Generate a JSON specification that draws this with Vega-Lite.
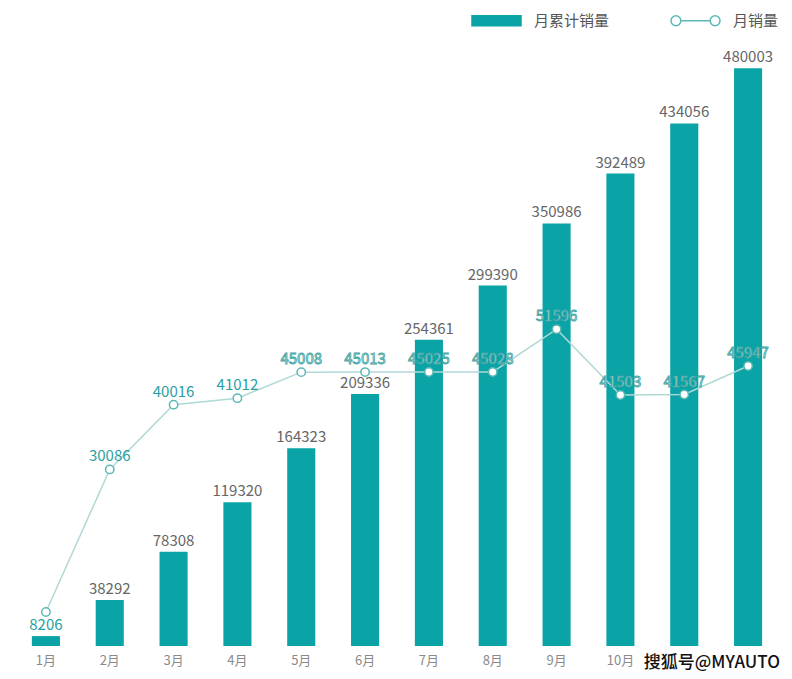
{
  "$schema": "https://vega.github.io/schema/vega-lite/v6.json",
  "width": 766,
  "height": 626,
  "autosize": {"type": "none"},
  "padding": {"left": 14, "top": 20, "right": 12, "bottom": 33},
  "background": "white",
  "title": {
    "text": "搜狐号@MYAUTO",
    "orient": "bottom",
    "anchor": "end",
    "offset": -12,
    "fontSize": 17,
    "fontWeight": 500,
    "color": "#111111",
    "font": "Noto Sans CJK SC"
  },
  "config": {
    "view": {"stroke": null},
    "font": "Noto Sans CJK SC",
    "text": {"font": "Noto Sans CJK SC"},
    "legend": {
      "orient": "none",
      "legendX": 457,
      "legendY": -25,
      "direction": "horizontal",
      "title": null,
      "labelFontSize": 15,
      "labelColor": "#555555",
      "labelFont": "Noto Sans CJK SC",
      "symbolSize": 2400,
      "symbolStrokeWidth": 1.5,
      "symbolOpacity": 1,
      "labelOffset": 12,
      "columnPadding": 58
    }
  },
  "data": {
    "values": [
      {"month": "1月", "cum": 8206, "monthly": 8206},
      {"month": "2月", "cum": 38292, "monthly": 30086},
      {"month": "3月", "cum": 78308, "monthly": 40016},
      {"month": "4月", "cum": 119320, "monthly": 41012},
      {"month": "5月", "cum": 164323, "monthly": 45008},
      {"month": "6月", "cum": 209336, "monthly": 45013},
      {"month": "7月", "cum": 254361, "monthly": 45025},
      {"month": "8月", "cum": 299390, "monthly": 45028},
      {"month": "9月", "cum": 350986, "monthly": 51596},
      {"month": "10月", "cum": 392489, "monthly": 41503},
      {"month": "11月", "cum": 434056, "monthly": 41567},
      {"month": "12月", "cum": 480003, "monthly": 45947}
    ]
  },
  "encoding": {
    "x": {
      "field": "month",
      "type": "ordinal",
      "sort": null,
      "scale": {"paddingInner": 0.56, "paddingOuter": 0.28},
      "axis": {
        "title": null,
        "domain": false,
        "ticks": false,
        "labelAngle": 0,
        "labelColor": "#8a8a8a",
        "labelFontSize": 13,
        "labelPadding": 8,
        "labelFont": "Noto Sans CJK SC",
        "labelExpr": "(datum.value === '11月' || datum.value === '12月') ? '' : datum.label"
      }
    }
  },
  "layer": [
    {
      "layer": [
        {
          "mark": {"type": "bar", "opacity": 1},
          "encoding": {
            "y": {"field": "cum", "type": "quantitative", "scale": {"domain": [0, 520000], "nice": false}, "axis": null},
            "fill": {
              "datum": "月累计销量",
              "scale": {"domain": ["月累计销量", "月销量"], "range": ["#0aa3a6", "#ffffff"]}
            }
          }
        },
        {
          "mark": {"type": "text", "baseline": "bottom", "dy": -3, "fontSize": 15},
          "encoding": {
            "y": {"field": "cum", "type": "quantitative", "scale": {"domain": [0, 520000], "nice": false}, "axis": null},
            "text": {"field": "cum", "type": "quantitative", "format": "d"},
            "color": {"condition": {"test": "datum.month === '1月'", "value": "#2a9fa3"}, "value": "#666666"},
            "fontWeight": {"condition": {"test": "datum.month === '1月'", "value": 600}, "value": 400}
          }
        }
      ]
    },
    {
      "layer": [
        {
          "mark": {"type": "line", "color": "#b0d8d6", "strokeWidth": 1.5},
          "encoding": {
            "y": {"field": "monthly", "type": "quantitative", "scale": {"domain": [2990, 99032], "nice": false, "zero": false}, "axis": null}
          }
        },
        {
          "mark": {"type": "point", "filled": true, "shape": "circle", "size": 70, "strokeWidth": 1.5, "opacity": 1, "fill": "#ffffff", "stroke": "#5ab8b5"},
          "encoding": {
            "y": {"field": "monthly", "type": "quantitative", "scale": {"domain": [2990, 99032], "nice": false, "zero": false}, "axis": null}
          }
        },
        {
          "transform": [{"filter": "false"}],
          "mark": {"type": "point", "filled": false, "strokeWidth": 1.5, "opacity": 1},
          "encoding": {
            "y": {"field": "monthly", "type": "quantitative", "scale": {"domain": [2990, 99032], "nice": false, "zero": false}, "axis": null},
            "shape": {
              "datum": "月销量",
              "scale": {
                "domain": ["月累计销量", "月销量"],
                "range": [
                  "M-1,-0.2H1V0.2H-1Z",
                  "M-0.6,0A0.2,0.2 0 1,1 -1,0A0.2,0.2 0 1,1 -0.6,0ZM-0.6,0H0.6M1,0A0.2,0.2 0 1,1 0.6,0A0.2,0.2 0 1,1 1,0Z"
                ]
              }
            },
            "fill": {"datum": "月销量"},
            "stroke": {
              "datum": "月销量",
              "scale": {"domain": ["月累计销量", "月销量"], "range": ["#0aa3a6", "#5ab8b5"]}
            }
          }
        },
        {
          "transform": [{"filter": "datum.month !== '1月'"}],
          "mark": {"type": "text", "baseline": "bottom", "dy": -5, "fontSize": 15, "strokeWidth": 0.8},
          "encoding": {
            "y": {"field": "monthly", "type": "quantitative", "scale": {"domain": [2990, 99032], "nice": false, "zero": false}, "axis": null},
            "text": {"field": "monthly", "type": "quantitative", "format": "d"},
            "color": {"condition": {"test": "indexof(['2月','3月','4月'], datum.month) >= 0", "value": "#2a9fa3"}, "value": "#e6f7f6"},
            "stroke": {"condition": {"test": "indexof(['2月','3月','4月'], datum.month) >= 0", "value": null}, "value": "#3aa3a3"},
            "fontWeight": {"condition": {"test": "indexof(['2月','3月','4月'], datum.month) >= 0", "value": 600}, "value": 400}
          }
        }
      ]
    }
  ],
  "resolve": {"scale": {"y": "independent"}}
}
